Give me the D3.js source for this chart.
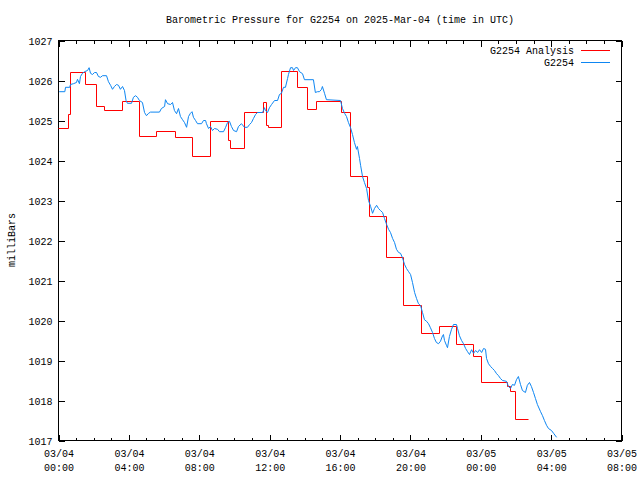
<!DOCTYPE html>
<html><head><meta charset="utf-8">
<script src="https://cdn.jsdelivr.net/npm/d3@7"></script>
<style>
body{margin:0;background:#fff}
text{font-family:"Liberation Mono","DejaVu Sans Mono",monospace;font-size:10px;fill:#000}
</style>
</head><body><svg id="c" width="640" height="480"></svg>
<script>
// ---- data (hours after 2025-03-04 00:00 UTC, pressure in mb) ----
const chartTitle = "Barometric Pressure for G2254 on 2025-Mar-04 (time in UTC)";
const yLabel = "milliBars";
const seriesNames = ["G2254 Analysis", "G2254"];
const yTicks = [1017,1018,1019,1020,1021,1022,1023,1024,1025,1026,1027];
const xTickHours = [0,4,8,12,16,20,24,28,32];
const xTickLabels = [["03/04","00:00"],["03/04","04:00"],["03/04","08:00"],["03/04","12:00"],["03/04","16:00"],["03/04","20:00"],["03/05","00:00"],["03/05","04:00"],["03/05","08:00"]];

const analysisHours = [0,0.585,0.70,1.55,2.16,2.63,3.64,4.62,5.57,6.65,7.60,8.64,9.68,9.75,10.60,11.63,11.85,11.94,12.65,13.61,14.14,14.65,16.10,16.60,17.58,17.68,18.63,19.63,20.63,21.66,22.64,23.60,24.03,25.54,25.69,25.97,26.70];
const analysisPressure = [1024.79,1025.15,1026.19,1025.90,1025.34,1025.24,1025.47,1024.59,1024.72,1024.58,1024.09,1024.97,1024.50,1024.29,1025.19,1025.44,1024.87,1024.82,1026.22,1025.83,1025.27,1025.47,1025.21,1023.60,1023.33,1022.60,1021.57,1020.37,1019.67,1019.86,1019.39,1019.10,1018.46,1018.35,1018.22,1017.52,1017.52];

const obsHours = [0.04,0.36,0.40,0.64,0.68,0.85,1.02,1.08,1.19,1.25,1.36,1.48,1.65,1.74,1.82,1.93,2.05,2.16,2.27,2.39,2.50,2.73,2.84,2.96,3.07,3.18,3.30,3.41,3.52,3.64,3.75,3.84,3.92,4.15,4.26,4.38,4.49,4.60,4.77,4.89,5.00,5.12,5.23,5.74,5.85,6.03,6.08,6.20,6.37,6.48,6.59,6.71,6.82,6.93,7.05,7.16,7.28,7.39,7.50,7.59,7.67,7.79,7.90,8.13,8.24,8.36,8.41,8.53,8.64,8.75,8.87,9.04,9.15,9.38,9.49,9.61,9.72,9.83,9.95,10.12,10.23,10.40,10.57,10.74,10.86,10.97,11.08,11.20,11.31,11.60,11.71,11.76,11.88,11.99,12.11,12.28,12.45,12.56,12.67,12.79,12.90,13.02,13.07,13.19,13.30,13.36,13.47,13.58,13.70,13.87,13.98,14.49,14.60,14.72,14.83,14.95,15.00,15.12,15.23,16.03,16.14,16.26,16.37,16.48,16.60,16.71,16.82,16.94,16.99,17.11,17.17,17.28,17.39,17.51,17.62,17.74,17.85,17.96,18.08,18.19,18.30,18.42,18.53,18.65,18.76,18.87,18.99,19.10,19.21,19.33,19.44,19.55,19.67,19.78,19.90,20.01,20.12,20.24,20.35,20.46,20.58,20.69,20.80,20.92,21.03,21.14,21.26,21.37,21.48,21.60,21.71,21.83,21.88,21.94,22.05,22.11,22.22,22.34,22.45,22.62,22.68,22.79,22.91,23.02,23.14,23.25,23.36,23.48,23.59,23.71,23.82,23.93,24.05,24.16,24.27,24.33,24.44,24.56,24.67,24.78,24.90,25.01,25.12,25.24,25.46,25.58,25.69,25.80,25.92,26.03,26.14,26.26,26.37,26.54,26.65,26.77,26.88,27.00,27.11,27.22,27.40,27.51,27.62,27.74,27.85,28.02,28.14,28.31];
const obsPressure = [1025.72,1025.72,1025.83,1025.83,1025.90,1025.92,1025.95,1026.03,1025.92,1026.10,1026.18,1026.22,1026.25,1026.32,1026.18,1026.15,1026.20,1026.20,1026.10,1026.08,1026.12,1026.12,1025.97,1025.88,1025.78,1025.85,1025.90,1025.88,1025.78,1025.85,1025.75,1025.50,1025.43,1025.43,1025.58,1025.62,1025.58,1025.50,1025.45,1025.20,1025.12,1025.18,1025.21,1025.21,1025.30,1025.35,1025.52,1025.42,1025.40,1025.45,1025.25,1025.17,1025.30,1025.10,1025.02,1024.95,1024.83,1025.10,1025.18,1025.22,1025.08,1025.00,1024.92,1024.92,1025.00,1025.00,1024.92,1024.80,1024.85,1024.75,1024.80,1024.78,1024.72,1024.72,1024.82,1024.95,1024.98,1024.85,1024.75,1024.72,1024.85,1024.92,1024.83,1024.83,1024.90,1024.95,1025.05,1025.15,1025.20,1025.20,1025.32,1025.25,1025.20,1025.32,1025.40,1025.50,1025.50,1025.65,1025.68,1025.83,1025.83,1026.05,1026.15,1026.32,1026.32,1026.25,1026.32,1026.32,1026.22,1026.17,1026.02,1026.02,1025.70,1025.72,1025.72,1025.78,1025.85,1025.68,1025.52,1025.50,1025.30,1025.18,1025.10,1024.95,1024.82,1024.65,1024.45,1024.28,1024.35,1024.05,1023.88,1023.60,1023.45,1023.30,1023.00,1022.85,1022.68,1022.80,1022.88,1022.80,1022.75,1022.70,1022.55,1022.40,1022.28,1022.20,1022.05,1021.95,1021.78,1021.70,1021.68,1021.57,1021.40,1021.30,1021.22,1021.15,1020.95,1020.70,1020.55,1020.42,1020.37,1020.20,1020.02,1019.98,1019.92,1019.82,1019.70,1019.55,1019.45,1019.42,1019.48,1019.62,1019.65,1019.50,1019.38,1019.32,1019.60,1019.78,1019.90,1019.90,1019.80,1019.62,1019.50,1019.42,1019.30,1019.22,1019.15,1019.27,1019.18,1019.25,1019.20,1019.27,1019.20,1019.30,1019.28,1019.05,1018.92,1018.85,1018.80,1018.75,1018.67,1018.62,1018.55,1018.50,1018.48,1018.35,1018.30,1018.40,1018.38,1018.52,1018.60,1018.40,1018.25,1018.20,1018.38,1018.45,1018.35,1018.20,1018.05,1017.90,1017.72,1017.62,1017.50,1017.38,1017.30,1017.25,1017.18,1017.08];

// ---- layout ----
const L = 58.5, R = 621.5, T = 40.5, B = 440.5;
const t0 = Date.UTC(2025, 2, 4, 0);
const toDate = h => new Date(t0 + h * 3600e3);
const snap = v => Math.round(v - 0.5) + 0.5;

const svg = d3.select("#c");
const x = d3.scaleUtc().domain([toDate(0), toDate(32)]).range([L, R]);
const y = d3.scaleLinear().domain([1017, 1027]).range([B, T]);

const majorDates = xTickHours.map(toDate);
const minorDates = d3.range(0, 33).filter(h => h % 4 !== 0).map(toDate);

// y axes (ticks inward)
svg.append("g").attr("transform", `translate(${L},0)`)
  .call(d3.axisLeft(y).tickValues(yTicks).tickSizeInner(-6).tickSizeOuter(0).tickPadding(6).tickFormat(d3.format("d")))
  .call(g => g.select(".domain").remove())
  .call(g => g.selectAll("text").attr("font-size", null).attr("font-family", null).attr("dy", "0.35em"));
svg.append("g").attr("transform", `translate(${R},0)`)
  .call(d3.axisRight(y).tickValues(yTicks).tickSizeInner(-6).tickSizeOuter(0).tickFormat(""))
  .call(g => g.select(".domain").remove());

// x axes
const bottom = svg.append("g").attr("transform", `translate(0,${B})`)
  .call(d3.axisBottom(x).tickValues(majorDates).tickSizeInner(-6).tickSizeOuter(0).tickPadding(8).tickFormat(() => ""))
  .call(g => g.select(".domain").remove());
bottom.selectAll(".tick text").each(function(d, i) {
  const t = d3.select(this).attr("font-size", null).attr("font-family", null).attr("dy", null).attr("y", null);
  t.append("tspan").attr("x", 0).attr("y", 16).text(xTickLabels[i][0]);
  t.append("tspan").attr("x", 0).attr("y", 30).text(xTickLabels[i][1]);
});
svg.append("g").attr("transform", `translate(0,${B})`)
  .call(d3.axisBottom(x).tickValues(minorDates).tickSizeInner(-3).tickSizeOuter(0).tickFormat(""))
  .call(g => g.select(".domain").remove());
svg.append("g").attr("transform", `translate(0,${T})`)
  .call(d3.axisTop(x).tickValues(majorDates).tickSizeInner(-6).tickSizeOuter(0).tickFormat(""))
  .call(g => g.select(".domain").remove());
svg.append("g").attr("transform", `translate(0,${T})`)
  .call(d3.axisTop(x).tickValues(minorDates).tickSizeInner(-3).tickSizeOuter(0).tickFormat(""))
  .call(g => g.select(".domain").remove());
svg.selectAll(".tick line").attr("shape-rendering", "crispEdges");

// frame
svg.append("rect").attr("x", L).attr("y", T).attr("width", R - L).attr("height", B - T)
  .attr("fill", "none").attr("stroke", "#000").attr("stroke-width", 1).attr("shape-rendering", "crispEdges");

// series
const redData = analysisHours.map((h, i) => [toDate(h), analysisPressure[i]]);
const blueData = obsHours.map((h, i) => [toDate(h), obsPressure[i]]);
svg.append("path").datum(redData)
  .attr("d", d3.line().x(d => snap(x(d[0]))).y(d => snap(y(d[1]))).curve(d3.curveStepAfter))
  .attr("fill", "none").attr("stroke", "#ff0000").attr("stroke-width", 1);
svg.append("path").datum(blueData)
  .attr("d", d3.line().x(d => x(d[0])).y(d => y(d[1])))
  .attr("fill", "none").attr("stroke", "#0e86f2").attr("stroke-width", 1);

// title & labels
svg.append("text").attr("x", (L + R) / 2).attr("y", 23).attr("text-anchor", "middle").text(chartTitle);
svg.append("text").attr("transform", "translate(15,240) rotate(-90)").attr("text-anchor", "middle").text(yLabel);

// legend
const legColors = ["#ff0000", "#0e86f2"];
seriesNames.forEach((name, i) => {
  svg.append("text").attr("x", 574).attr("y", 54 + i * 12).attr("text-anchor", "end").text(name);
  svg.append("line").attr("x1", 581).attr("x2", 610).attr("y1", 50.5 + i * 12).attr("y2", 50.5 + i * 12)
    .attr("stroke", legColors[i]).attr("stroke-width", 1).attr("shape-rendering", "crispEdges");
});
</script></body></html>
